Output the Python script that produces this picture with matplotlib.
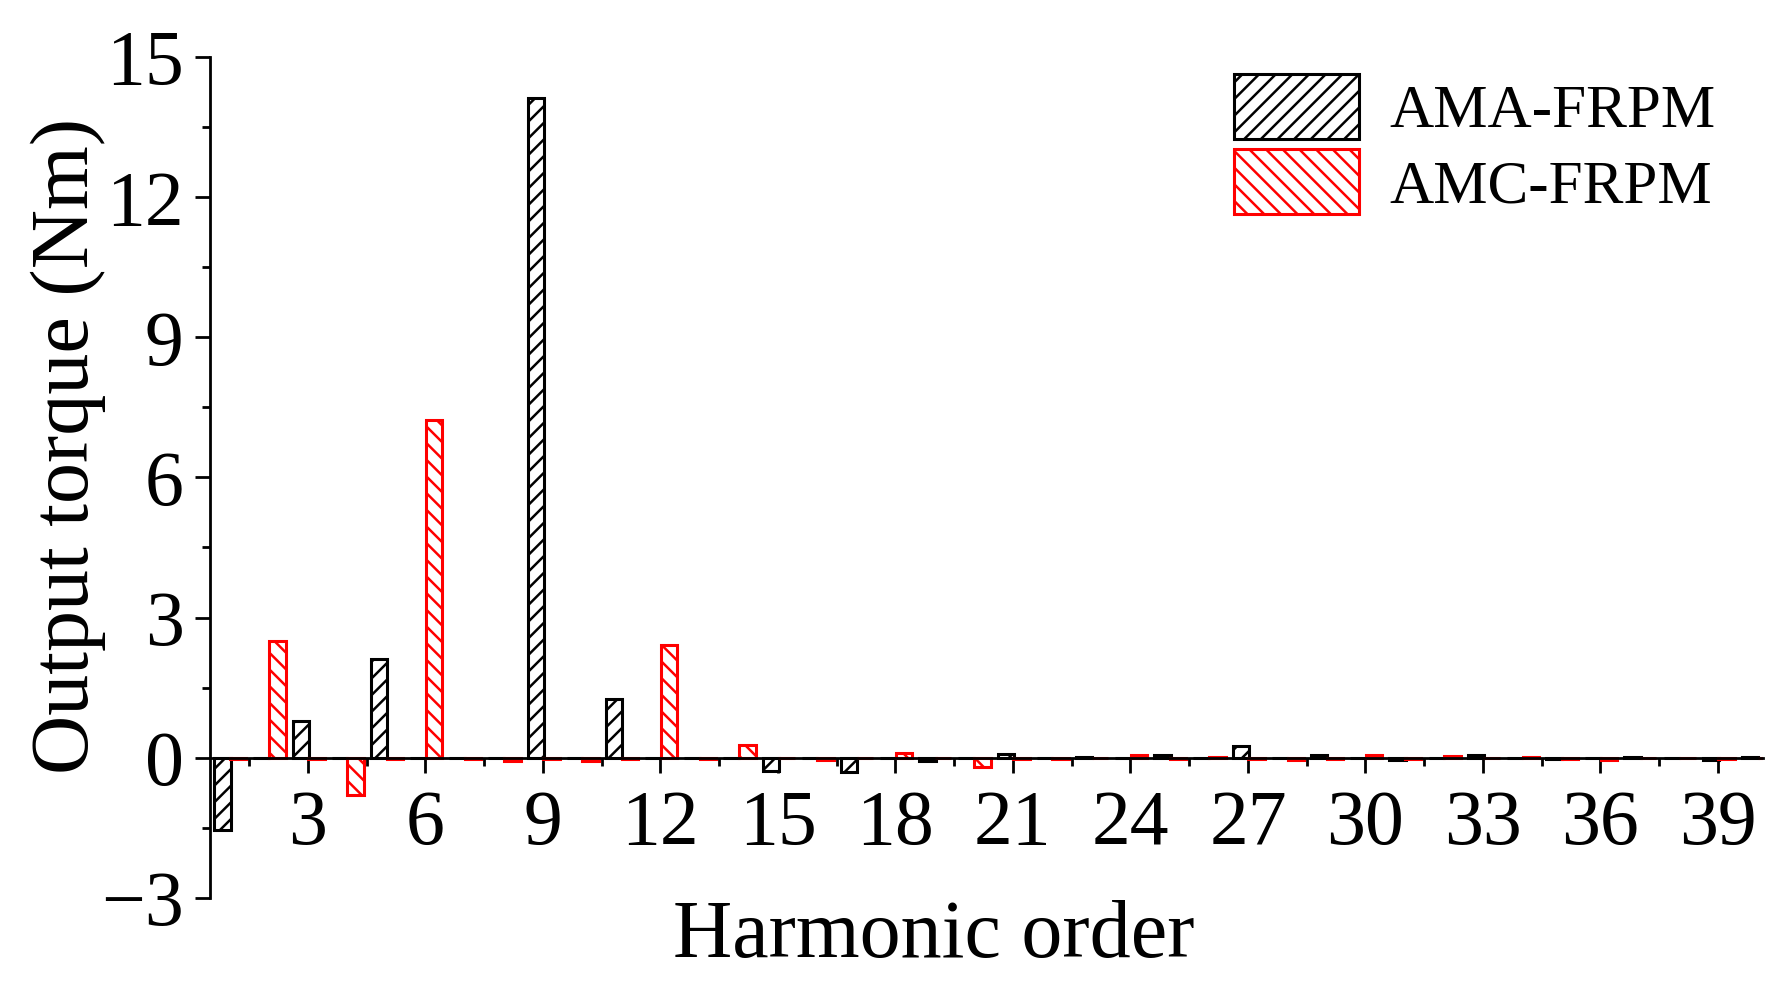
import numpy as np
import matplotlib
matplotlib.use('Agg')
import matplotlib.pyplot as plt
from matplotlib.ticker import MultipleLocator

plt.rcParams['font.family'] = ['Liberation Serif', 'DejaVu Serif']
plt.rcParams['hatch.linewidth'] = 1.8
plt.rcParams['axes.unicode_minus'] = True

# Harmonic orders 1..40
harmonics = np.arange(1, 41)

# AMA-FRPM output torque harmonics (Nm)
ama_torque = [-1.55, 0.00, 0.79, 0.00, 2.12, 0.00, -0.01, 0.00, 14.13, 0.00,
              1.25, 0.00, 0.00, 0.00, -0.28, 0.00, -0.30, 0.00, -0.08, 0.00,
              0.08, 0.00, 0.01, 0.00, 0.05, 0.00, 0.25, 0.00, 0.06, 0.00,
              -0.06, 0.00, 0.05, 0.00, -0.04, 0.00, 0.02, 0.00, -0.06, 0.02]

# AMC-FRPM output torque harmonics (Nm)
amc_torque = [-0.02, 2.50, -0.02, -0.81, -0.03, 7.22, -0.03, -0.08, -0.03, -0.08,
              -0.03, 2.41, -0.02, 0.26, -0.01, -0.05, -0.01, 0.09, -0.01, -0.20,
              -0.02, -0.04, -0.01, 0.06, -0.02, 0.02, -0.02, -0.05, -0.02, 0.06,
              -0.02, 0.03, -0.01, 0.02, -0.02, -0.06, -0.01, -0.01, -0.02, 0.00]

fig = plt.figure(figsize=(17.85, 9.96), dpi=100)
ax = fig.add_axes([0.1176, 0.0987, 0.8701, 0.8439])

bar_w = 0.42
ax.bar(harmonics - 0.18, ama_torque, width=bar_w, facecolor='white',
       edgecolor='black', hatch='//', linewidth=2.2, label='AMA-FRPM', zorder=2)
ax.bar(harmonics + 0.22, amc_torque, width=bar_w, facecolor='white',
       edgecolor='red', hatch='\\\\', linewidth=2.2, label='AMC-FRPM', zorder=2)

ax.set_xlim(0.5, 40.15)
ax.set_ylim(-3, 15)

# axes style (Origin-like): x axis on the zero line
ax.spines['top'].set_visible(False)
ax.spines['right'].set_visible(False)
ax.spines['bottom'].set_position(('data', 0))
ax.spines['bottom'].set_zorder(3)
for s in ['left', 'bottom']:
    ax.spines[s].set_linewidth(2.0)

ax.xaxis.set_major_locator(MultipleLocator(3))
ax.xaxis.set_minor_locator(MultipleLocator(1.5))
ax.yaxis.set_major_locator(MultipleLocator(3))
ax.yaxis.set_minor_locator(MultipleLocator(1.5))
ax.tick_params(which='major', direction='out', length=11, width=2.0, labelsize=56)
ax.tick_params(which='minor', direction='out', length=6, width=2.0)
ax.tick_params(axis='x', which='major', pad=12)
ax.tick_params(axis='y', which='major', pad=8)

ax.set_ylabel('Output torque (Nm)', fontsize=59)
ax.yaxis.set_label_coords(-0.067, 0.538)
ax.set_xlabel('Harmonic order', fontsize=59)
ax.xaxis.set_label_coords(0.466, -0.002)

ax.legend(loc='upper right', bbox_to_anchor=(1.005, 1.045), fontsize=44, frameon=False,
          handlelength=2.05, handleheight=1.25, handletextpad=0.5, labelspacing=0.15)

fig.savefig('out.png', dpi=100)
